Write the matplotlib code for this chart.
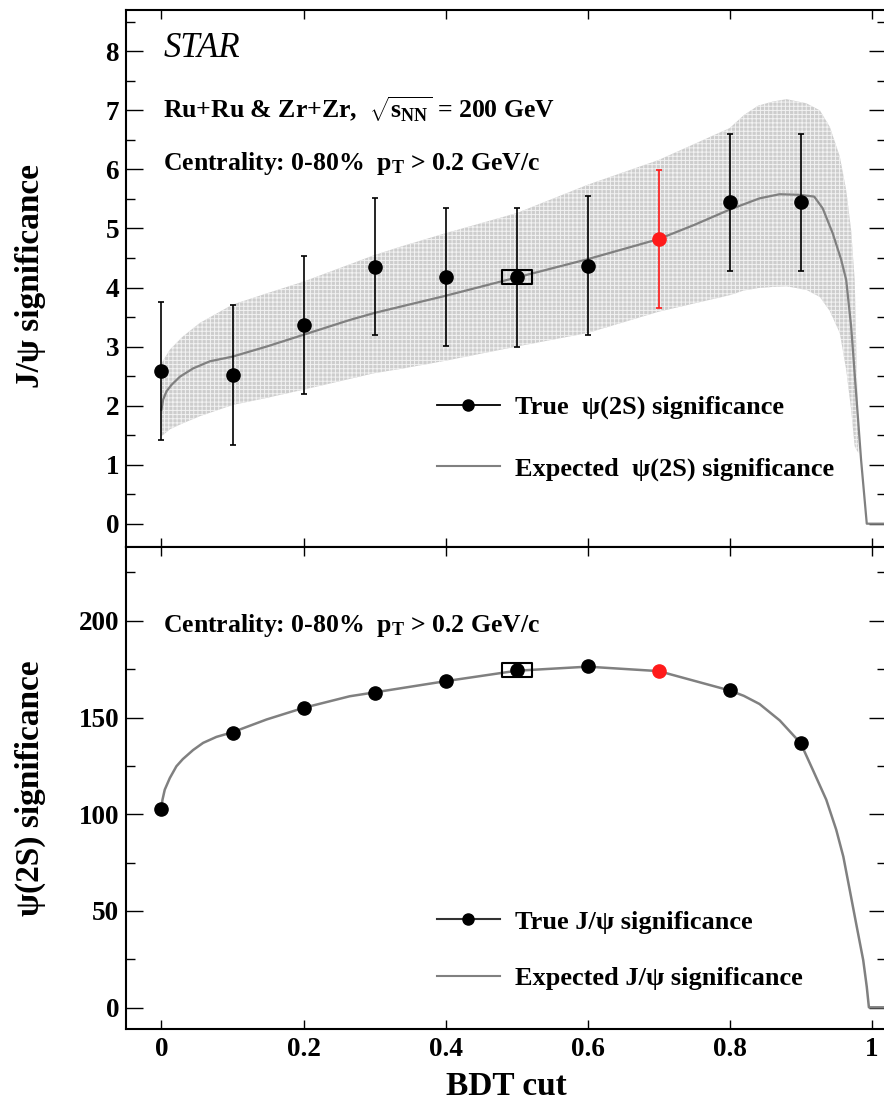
import numpy as np
import matplotlib
matplotlib.use("Agg")
import matplotlib.pyplot as plt
from matplotlib.path import Path
from matplotlib.lines import Line2D

plt.rcParams['font.family'] = ['Liberation Serif', 'DejaVu Serif']
plt.rcParams['font.weight'] = 'bold'
plt.rcParams['axes.labelweight'] = 'bold'
plt.rcParams['mathtext.fontset'] = 'custom'
plt.rcParams['mathtext.rm'] = 'Liberation Serif:bold'
plt.rcParams['mathtext.it'] = 'Liberation Serif:bold:italic'
plt.rcParams['mathtext.bf'] = 'Liberation Serif:bold'
plt.rcParams['hatch.linewidth'] = 0.7

# BDT cut scan
bdt_cut = [0.0, 0.1, 0.2, 0.3, 0.4, 0.5, 0.6, 0.7, 0.8, 0.9]
psi2s_sig = [2.59, 2.52, 3.36, 4.35, 4.18, 4.17, 4.37, 4.82, 5.44, 5.44]
psi2s_err = [1.17, 1.18, 1.17, 1.16, 1.17, 1.18, 1.18, 1.17, 1.16, 1.16]
jpsi_sig = [102.5, 142.1, 155.0, 162.8, 168.8, 174.4, 176.6, 174.0, 164.0, 136.9]
best_cut = 0.5
chosen_cut = 0.7

# expected psi(2S) significance and its uncertainty band
exp_psi2s_x = [0.0, 0.0023, 0.007, 0.014, 0.026, 0.0445, 0.068, 0.1, 0.148, 0.2, 0.265,
               0.3, 0.4, 0.5, 0.6, 0.7, 0.75, 0.8, 0.842, 0.87, 0.898, 0.919, 0.931,
               0.945, 0.957, 0.964, 0.971, 0.978, 0.985, 0.993, 1.02]
exp_psi2s_y = [1.93, 2.10, 2.24, 2.35, 2.49, 2.63, 2.75, 2.83, 3.00, 3.20, 3.45,
               3.57, 3.86, 4.17, 4.48, 4.82, 5.06, 5.32, 5.51, 5.58, 5.57, 5.54, 5.34,
               4.92, 4.47, 4.13, 3.34, 2.21, 1.08, 0.0, 0.0]
band_x = [0.0, 0.012, 0.03, 0.054, 0.1, 0.148, 0.2, 0.3, 0.336, 0.4, 0.5, 0.6, 0.7,
          0.8, 0.82, 0.84, 0.861, 0.88, 0.908, 0.927, 0.941, 0.955, 0.964, 0.971,
          0.976, 0.981]
band_hi = [2.72, 2.95, 3.17, 3.40, 3.71, 3.90, 4.10, 4.55, 4.69, 4.92, 5.26, 5.74, 6.16,
           6.70, 6.92, 7.08, 7.15, 7.19, 7.12, 7.00, 6.72, 6.22, 5.65, 4.97,
           4.13, 1.60]
band_lo = [1.48, 1.60, 1.70, 1.82, 2.01, 2.13, 2.27, 2.55, 2.62, 2.76, 3.00, 3.23, 3.59,
           3.87, 3.95, 3.99, 4.01, 4.02, 3.96, 3.84, 3.60, 3.23, 2.61, 1.93,
           1.31, 1.20]

# expected J/psi significance
exp_jpsi_x = [0.0, 0.0014, 0.0046, 0.0117, 0.021, 0.03, 0.0445, 0.0586, 0.0774, 0.1,
              0.148, 0.2, 0.265, 0.3, 0.4, 0.5, 0.6, 0.7, 0.8, 0.82, 0.842, 0.8705,
              0.9, 0.917, 0.936, 0.95, 0.96, 0.969, 0.978, 0.988, 0.993, 0.996, 1.02]
exp_jpsi_y = [103.5, 107.5, 112.7, 118.7, 124.8, 128.5, 133.2, 136.9, 140.0, 142.4,
              149.0, 155.0, 161.0, 163.0, 168.8, 174.2, 176.3, 174.0, 164.0, 161.2,
              157.0, 148.5, 136.7, 123.0, 107.5, 92.0, 78.1, 60.9, 43.6, 24.6, 10.8,
              0.2, 0.2]

x = np.array(bdt_cut)
y1 = np.array(psi2s_sig)
e1 = np.array(psi2s_err)
y2 = np.array(jpsi_sig)
red = np.isclose(x, chosen_cut)
ibest = int(np.argmin(np.abs(x - best_cut)))

box = Path([(-1, -0.47), (1, -0.47), (1, 0.47), (-1, 0.47), (-1, -0.47)],
           [Path.MOVETO, Path.LINETO, Path.LINETO, Path.LINETO, Path.CLOSEPOLY])

fig = plt.figure(figsize=(8.84, 11.01), dpi=100)
ax1 = fig.add_axes([0.1425, 0.5029, 0.8597, 0.488])
ax2 = fig.add_axes([0.1425, 0.0654, 0.8597, 0.4375])

for ax in (ax1, ax2):
    ax.set_xlim(-0.05, 1.02)
    ax.set_xticks([0, 0.2, 0.4, 0.6, 0.8, 1.0])
    ax.set_xticklabels(['0', '0.2', '0.4', '0.6', '0.8', '1'])
    for s in ax.spines.values():
        s.set_linewidth(1.5)
    ax.tick_params(which='both', direction='in', top=True, right=True, width=1.0,
                   labelsize=19.5)
    ax.tick_params(axis='y', which='major', length=12.5, pad=5)
    ax.tick_params(axis='y', which='minor', length=6.5)
    ax.tick_params(axis='x', which='major', length=6.5, pad=6)

# top panel
ax1.set_ylim(-0.4, 8.7)
ax1.set_yticks(np.arange(0, 9, 1))
ax1.set_yticks(np.arange(-0.0, 8.6, 0.5), minor=True)
ax1.tick_params(axis='x', labelbottom=False)

ax1.fill_between(band_x, band_lo, band_hi, facecolor='#cdcdcd', edgecolor='#f2f2f2',
                 hatch='++++', linewidth=0)
ax1.plot(exp_psi2s_x, exp_psi2s_y, color='#808080', lw=1.6)
ax1.errorbar(x[~red], y1[~red], yerr=e1[~red], fmt='o', color='k', ms=9.5,
             elinewidth=1.2, capsize=2, capthick=1.2)
ax1.errorbar(x[red], y1[red], yerr=e1[red], fmt='o', color='#ff1a1a', ms=9.5,
             elinewidth=1.2, capsize=2, capthick=1.2)
ax1.plot(x[ibest], y1[ibest], marker=box, ms=21.6, mfc='none', mec='k', mew=1.5)

ax1.text(0.049, 0.913, 'STAR', transform=ax1.transAxes, fontsize=25,
         fontstyle='italic', fontweight='normal', va='baseline')
ax1.text(0.049, 0.799, r'Ru+Ru & Zr+Zr,  $\sqrt{\mathrm{s_{NN}}}$ = 200 GeV',
         transform=ax1.transAxes, fontsize=18.5, va='baseline')
ax1.text(0.049, 0.702, r'Centrality: 0-80%  $\mathrm{p_{T}}$ > 0.2 GeV/c',
         transform=ax1.transAxes, fontsize=18.5, va='baseline')

h_true = Line2D([], [], color='k', lw=1.3, marker='o', ms=8)
h_exp = Line2D([], [], color='#808080', lw=1.5)
ax1.legend([h_true, h_exp], ['True  ψ(2S) significance', 'Expected  ψ(2S) significance'],
           loc='center left', bbox_to_anchor=(0.409, 0.2034), frameon=False,
           fontsize=19, handlelength=2.4, handletextpad=0.57, labelspacing=1.42,
           borderpad=0, borderaxespad=0)

ax1.set_ylabel('J/ψ significance', fontsize=24, fontweight='bold', va='center')
ax1.yaxis.set_label_coords(-0.126, 0.505)

# bottom panel
ax2.set_ylim(-11, 238)
ax2.set_yticks(np.arange(0, 201, 50))
ax2.set_yticks(np.arange(0, 236, 25), minor=True)

ax2.plot(exp_jpsi_x, exp_jpsi_y, color='#808080', lw=1.8)
ax2.plot(x[~red], y2[~red], 'o', color='k', ms=9.5)
ax2.plot(x[red], y2[red], 'o', color='#ff1a1a', ms=9.5)
ax2.plot(x[ibest], y2[ibest], marker=box, ms=21.6, mfc='none', mec='k', mew=1.5)

ax2.text(0.049, 0.825, r'Centrality: 0-80%  $\mathrm{p_{T}}$ > 0.2 GeV/c',
         transform=ax2.transAxes, fontsize=18.5, va='baseline')

h_true2 = Line2D([], [], color='#333333', lw=1.5, marker='o', ms=8, mfc='k', mec='k')
h_exp2 = Line2D([], [], color='#808080', lw=1.5)
ax2.legend([h_true2, h_exp2], ['True J/ψ significance', 'Expected J/ψ significance'],
           loc='center left', bbox_to_anchor=(0.409, 0.164), frameon=False,
           fontsize=19, handlelength=2.4, handletextpad=0.57, labelspacing=1.25,
           borderpad=0, borderaxespad=0)

ax2.set_ylabel('ψ(2S) significance', fontsize=24, fontweight='bold', va='center')
ax2.yaxis.set_label_coords(-0.126, 0.5)
ax2.set_xlabel('BDT cut', fontsize=24, fontweight='bold', labelpad=6)

fig.savefig('out.png', dpi=100)
